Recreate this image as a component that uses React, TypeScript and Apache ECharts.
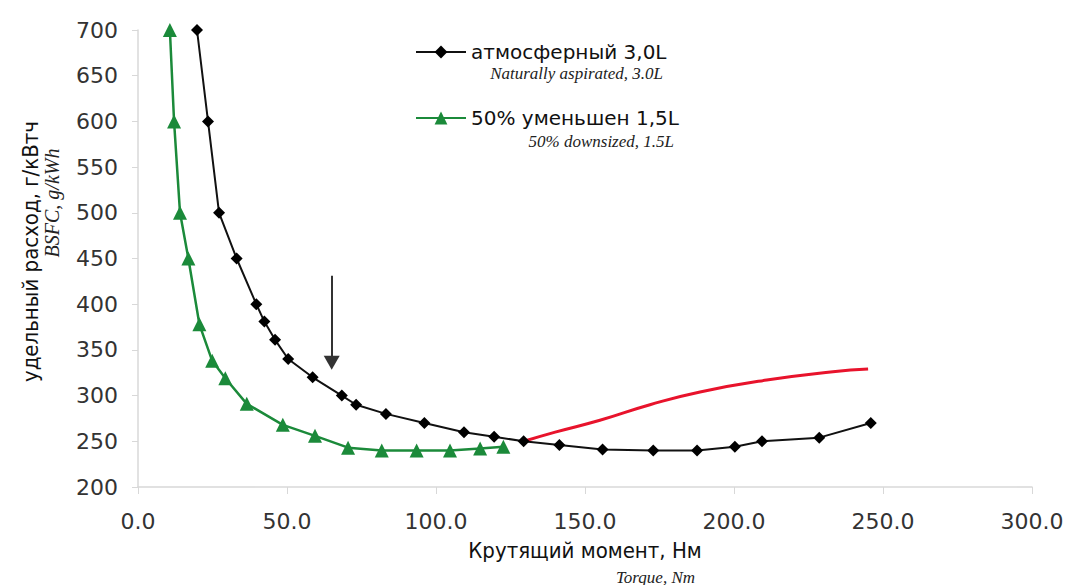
import React, { useEffect, useRef } from "react";
import * as echarts from "echarts";

const naTorque = [19.8, 23.5, 27.2, 33.1, 39.7, 42.4, 46.0, 50.4, 58.6, 68.4, 73.2, 83.2, 96.1, 109.4, 119.5, 129.4, 141.4, 155.9, 172.9, 187.6, 200.3, 209.4, 228.6, 245.9];
const naBsfc = [700, 600, 500, 450, 400, 381, 361, 340, 320, 300, 290, 280, 270, 260, 255, 250, 246, 241, 240, 240, 244, 250, 254, 270];

const dsTorque = [10.7, 12.1, 14.1, 16.9, 20.6, 24.9, 29.3, 36.5, 48.6, 59.4, 70.5, 81.8, 93.5, 104.7, 114.8, 122.6];
const dsBsfc = [700, 600, 500, 450, 378, 338, 319, 291, 268, 256, 243, 240, 240, 240, 242, 244];

const redTorque = [129.5, 140, 155, 171.8, 188.6, 211, 233.2, 245];
const redBsfc = [250, 260, 273, 290, 304, 317, 326, 329];

const arrowTorque = [65, 65];
const arrowBsfc = [431, 336];

const xTicks = { min: 0, max: 300, interval: 50 };
const yTicks = { min: 200, max: 700, interval: 50 };

const seriesNames = ["атмосферный 3,0L", "50% уменьшен 1,5L"];
const seriesSubs = ["Naturally aspirated, 3.0L", "50% downsized, 1.5L"];
const xTitle = "Крутящий момент, Нм";
const xSub = "Torque, Nm";
const yTitle = "удельный расход, г/кВтч";
const ySub = "BSFC, g/kWh";

const zip = (a: number[], b: number[]) => a.map((v, i) => [v, b[i]]);

export default function App() {
  const ref = useRef<HTMLDivElement>(null);
  useEffect(() => {
    if (!ref.current) return;
    const chart = echarts.init(ref.current, null, { renderer: "svg" });
    const labelStyle = { fontFamily: "DejaVu Sans, Verdana, sans-serif", fontSize: 22, color: "#333" };
    const subStyle = { fontFamily: "Liberation Serif, Times New Roman, serif", fontStyle: "italic", fontSize: 17, fill: "#222" };
    chart.setOption({
      animation: false,
      backgroundColor: "#fff",
      grid: { left: 138, right: 39, top: 30, bottom: 98 },
      legend: {
        orient: "vertical",
        left: 410,
        top: 37,
        padding: 5,
        itemWidth: 50,
        itemHeight: 16,
        itemGap: 46,
        data: seriesNames,
        textStyle: { fontFamily: "DejaVu Sans, Verdana, sans-serif", fontSize: 20, color: "#111" },
      },
      xAxis: {
        type: "value",
        ...xTicks,
        name: xTitle,
        nameLocation: "middle",
        nameGap: 52,
        nameTextStyle: { fontFamily: "DejaVu Sans Condensed, DejaVu Sans, sans-serif", fontSize: 22, color: "#111" },
        axisLine: { show: true, lineStyle: { color: "#d8d8d8", width: 1.5 } },
        axisTick: { show: true, length: 7, lineStyle: { color: "#d8d8d8" } },
        splitLine: { show: false },
        axisLabel: { ...labelStyle, margin: 23, formatter: (v: number) => v.toFixed(1) },
      },
      yAxis: {
        type: "value",
        ...yTicks,
        name: yTitle,
        nameLocation: "middle",
        nameGap: 97,
        nameTextStyle: { fontFamily: "DejaVu Sans Condensed, DejaVu Sans, sans-serif", fontSize: 22, color: "#111", padding: [0, 0, 0, 14] },
        axisLine: { show: true, lineStyle: { color: "#d8d8d8", width: 1.5 } },
        axisTick: { show: true, length: 6, lineStyle: { color: "#d8d8d8" } },
        splitLine: { show: false },
        axisLabel: { ...labelStyle, margin: 20 },
      },
      graphic: [
        { type: "text", x: 52, y: 203, rotation: Math.PI / 2, style: { text: ySub, ...subStyle, fontSize: 20, textAlign: "center", textVerticalAlign: "middle" } },
        { type: "text", x: 695, y: 577, style: { text: xSub, ...subStyle, textAlign: "right", textVerticalAlign: "middle" } },
        { type: "text", x: 663, y: 73, style: { text: seriesSubs[0], ...subStyle, textAlign: "right", textVerticalAlign: "middle" } },
        { type: "text", x: 674, y: 141, style: { text: seriesSubs[1], ...subStyle, textAlign: "right", textVerticalAlign: "middle" } },
      ],
      series: [
        {
          name: seriesNames[0],
          type: "line",
          data: zip(naTorque, naBsfc),
          symbol: "diamond",
          symbolSize: 12,
          itemStyle: { color: "#000" },
          lineStyle: { color: "#111", width: 2 },
          z: 3,
        },
        {
          name: seriesNames[1],
          type: "line",
          data: zip(dsTorque, dsBsfc),
          symbol: "triangle",
          symbolSize: 14,
          itemStyle: { color: "#1b8a3a" },
          lineStyle: { color: "#1b8a3a", width: 2.5 },
          z: 4,
        },
        {
          name: "red",
          type: "line",
          data: zip(redTorque, redBsfc),
          symbol: "none",
          smooth: true,
          lineStyle: { color: "#e8132c", width: 3 },
          z: 2,
          markLine: {
            silent: true,
            symbol: ["none", "triangle"],
            symbolSize: [16, 14],
            lineStyle: { color: "#333", width: 2, type: "solid" },
            label: { show: false },
            data: [[{ coord: [arrowTorque[0], arrowBsfc[0]] }, { coord: [arrowTorque[1], arrowBsfc[1]] }]],
          },
        },
      ],
    });
    return () => chart.dispose();
  }, []);
  return <div ref={ref} style={{ width: 1071, height: 585, position: "absolute", left: 0, top: 0 }} />;
}
